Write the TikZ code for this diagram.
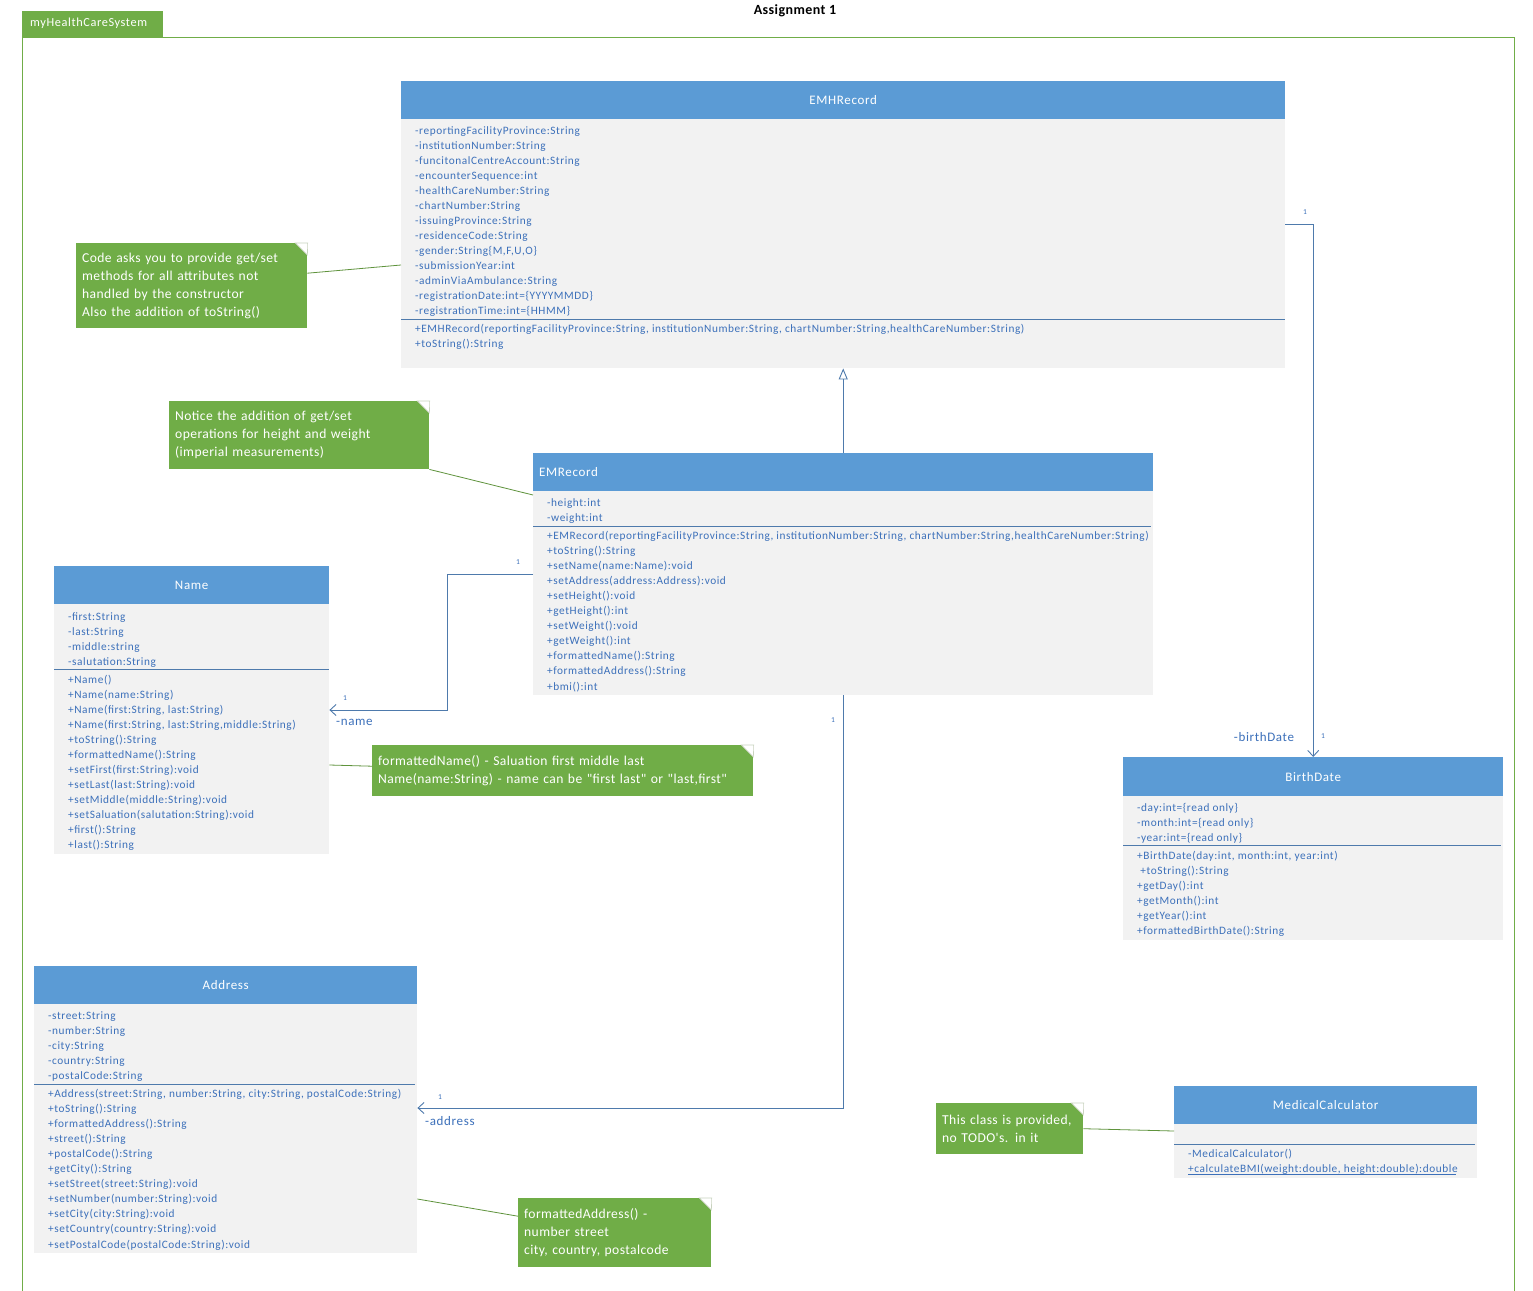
\documentclass[tikz,border=0pt]{standalone}
\usepackage{fontspec}
\setmainfont{Carlito}
\newfontfamily\memfam[LetterSpace=5]{Carlito}
\newfontfamily\notefam[LetterSpace=3]{Carlito}
\usetikzlibrary{arrows.meta}
\definecolor{hdrblue}{RGB}{91,155,213}
\definecolor{bodygray}{RGB}{242,242,242}
\definecolor{txtblue}{RGB}{60,112,186}
\definecolor{lineblue}{RGB}{78,122,172}
\definecolor{notegreen}{RGB}{112,173,71}
\definecolor{foldgray}{RGB}{200,210,190}
\tikzset{
  hdr/.style={fill=hdrblue, draw=none, inner sep=0, anchor=north west},
  hdrtext/.style={text=white, font=\memfam\fontsize{13}{15}\selectfont, inner sep=0},
  bodybox/.style={fill=bodygray, draw=none, inner sep=0, anchor=north west},
  mem/.style={anchor=base west, inner sep=0, text=txtblue, font=\memfam\fontsize{11.3}{15}\selectfont},
  sepline/.style={draw=lineblue, line width=0.9pt},
  notebox/.style={fill=notegreen, draw=none, anchor=north west, inner xsep=6pt, inner ysep=0pt, align=left, text=white, font=\notefam\fontsize{13.6}{18}\selectfont},
  noteline/.style={draw=notegreen!85!black, line width=0.8pt},
  assoc/.style={draw=lineblue, line width=0.9pt, -{Straight Barb[length=6pt,width=11pt,line width=0.9pt]}},
  gen/.style={draw=lineblue, line width=0.9pt, -{Triangle[open, length=11pt, width=9pt, fill=white, line width=0.9pt]}},
  mult/.style={text=txtblue, font=\fontsize{7.5}{8}\selectfont, inner sep=0},
  role/.style={text=txtblue, font=\memfam\fontsize{13}{15}\selectfont, inner sep=0},
  frameline/.style={draw=notegreen, line width=0.9pt}
}
\newcommand{\foldcorner}[1]{%
  \fill[white] ([xshift=-12pt]#1.north east) -- (#1.north east) -- ([yshift=-12pt]#1.north east) -- cycle;
  \draw[foldgray, line width=0.6pt] ([xshift=-12pt]#1.north east) -- ([yshift=-12pt]#1.north east) -- ([xshift=0.3pt]#1.north east) -- cycle;}
\begin{document}
\begin{tikzpicture}[x=1pt,y=-1pt]
\useasboundingbox (0,0) rectangle (1533,1290);
\fill[white] (0,0) rectangle (1533,1290);

% frame and tab
\draw[frameline] (22,1291) -- (22,37) -- (1514,37) -- (1514,1291);
\node[fill=notegreen, minimum width=141, minimum height=26, anchor=north west, inner sep=0] (tab) at (22,11) {};
\node[anchor=west, text=white, inner sep=0, font=\memfam\fontsize{12.3}{14}\selectfont] (tabt) at (30,23.5) {myHealthCareSystem};
\node[font=\notefam\bfseries\fontsize{14}{16}\selectfont, inner sep=0] (title) at (795,11) {Assignment 1};

% ===== EMHRecord
\node[hdr, minimum width=884, minimum height=38] (emh) at (401,81) {};
\node[hdrtext] (emht) at (emh.center) {EMHRecord};
\node[bodybox, minimum width=884, minimum height=249] (emhb) at (401,119) {};
\foreach \txt [count=\i from 0] in {-reportingFacilityProvince:String,-institutionNumber:String,-funcitonalCentreAccount:String,-encounterSequence:int,-healthCareNumber:String,-chartNumber:String,-issuingProvince:String,-residenceCode:String,{-gender:String\{M,F,U,O\}},-submissionYear:int,-adminViaAmbulance:String,{-registrationDate:int=\{YYYYMMDD\}},{-registrationTime:int=\{HHMM\}}}
  \node[mem] (emh-a\i) at (415,134+15*\i) {\txt};
\draw[sepline] (401,319) -- (1285,319);
\foreach \txt [count=\i from 0] in {{+EMHRecord(reportingFacilityProvince:String, institutionNumber:String, chartNumber:String,healthCareNumber:String)},+toString():String}
  \node[mem] (emh-m\i) at (415,332+15*\i) {\txt};

% ===== EMRecord
\node[hdr, minimum width=620, minimum height=38] (emr) at (533,453) {};
\node[hdrtext, anchor=west] (emrt) at (539,472) {EMRecord};
\node[bodybox, minimum width=620, minimum height=204] (emrb) at (533,491) {};
\foreach \txt [count=\i from 0] in {-height:int,-weight:int}
  \node[mem] (emr-a\i) at (547,506+15*\i) {\txt};
\draw[sepline] (533,526) -- (1151,526);
\foreach \txt [count=\i from 0] in {{+EMRecord(reportingFacilityProvince:String, institutionNumber:String, chartNumber:String,healthCareNumber:String)},+toString():String,+setName(name:Name):void,+setAddress(address:Address):void,+setHeight():void,+getHeight():int,+setWeight():void,+getWeight():int,+formattedName():String,+formattedAddress():String,+bmi():int}
  \node[mem] (emr-m\i) at (547,539+15.1*\i) {\txt};

% ===== Name
\node[hdr, minimum width=275, minimum height=38] (nm) at (54,566) {};
\node[hdrtext] (nmt) at (nm.center) {Name};
\node[bodybox, minimum width=275, minimum height=250] (nmb) at (54,604) {};
\foreach \txt [count=\i from 0] in {-first:String,-last:String,-middle:string,-salutation:String}
  \node[mem] (nm-a\i) at (68,620+15*\i) {\txt};
\draw[sepline] (54,669) -- (329,669);
\foreach \txt [count=\i from 0] in {+Name(),+Name(name:String),{+Name(first:String, last:String)},{+Name(first:String, last:String,middle:String)},+toString():String,+formattedName():String,+setFirst(first:String):void,+setLast(last:String):void,+setMiddle(middle:String):void,+setSaluation(salutation:String):void,+first():String,+last():String}
  \node[mem] (nm-m\i) at (68,683+15*\i) {\txt};

% ===== BirthDate
\node[hdr, minimum width=380, minimum height=39] (bd) at (1123,757) {};
\node[hdrtext] (bdt) at (bd.center) {BirthDate};
\node[bodybox, minimum width=380, minimum height=144] (bdb) at (1123,796) {};
\foreach \txt [count=\i from 0] in {-day:int=\{read only\},-month:int=\{read only\},-year:int=\{read only\}}
  \node[mem] (bd-a\i) at (1137,811+15*\i) {\txt};
\draw[sepline] (1123,845) -- (1501,845);
\foreach \txt [count=\i from 0] in {{+BirthDate(day:int, month:int, year:int)},\ +toString():String,+getDay():int,+getMonth():int,+getYear():int,+formattedBirthDate():String}
  \node[mem] (bd-m\i) at (1137,859+15*\i) {\txt};

% ===== Address
\node[hdr, minimum width=383, minimum height=38] (ad) at (34,966) {};
\node[hdrtext] (adt) at (ad.center) {Address};
\node[bodybox, minimum width=383, minimum height=249] (adb) at (34,1004) {};
\foreach \txt [count=\i from 0] in {-street:String,-number:String,-city:String,-country:String,-postalCode:String}
  \node[mem] (ad-a\i) at (48,1019+15*\i) {\txt};
\draw[sepline] (34,1084) -- (415,1084);
\foreach \txt [count=\i from 0] in {{+Address(street:String, number:String, city:String, postalCode:String)},+toString():String,+formattedAddress():String,+street():String,+postalCode():String,+getCity():String,+setStreet(street:String):void,+setNumber(number:String):void,+setCity(city:String):void,+setCountry(country:String):void,+setPostalCode(postalCode:String):void}
  \node[mem] (ad-m\i) at (48,1097+15.1*\i) {\txt};

% ===== MedicalCalculator
\node[hdr, minimum width=303, minimum height=38] (mc) at (1174,1086) {};
\node[hdrtext] (mct) at (mc.center) {MedicalCalculator};
\node[bodybox, minimum width=303, minimum height=54] (mcb) at (1174,1124) {};
\draw[sepline] (1174,1144) -- (1475,1144);
\node[mem] (mc-m0) at (1188,1157) {-MedicalCalculator()};
\node[mem] (mc-m1) at (1188,1172) {+calculateBMI(weight:double, height:double):double};
\draw[draw=txtblue, line width=0.7pt] ([yshift=-2pt]mc-m1.base west) -- ([xshift=-1.5pt,yshift=-2pt]mc-m1.base east);

% ===== Notes
\node[notebox, text width=219, minimum height=85] (n1) at (76,243) {Code asks you to provide get/set\\methods for all attributes not\\handled by the constructor\\Also the addition of toString()};
\foldcorner{n1}
\node[notebox, text width=248, minimum height=68] (n2) at (169,401) {Notice the addition of get/set\\operations for height and weight\\(imperial measurements)};
\foldcorner{n2}
\node[notebox, text width=369, minimum height=51] (n3) at (372,745) {formattedName() - Saluation first middle last\\Name(name:String) - name can be "first last" or "last,first"};
\foldcorner{n3}
\node[notebox, text width=181, minimum height=69] (n4) at (518,1198) {formattedAddress() -\\number street\\city, country, postalcode};
\foldcorner{n4}
\node[notebox, text width=135, minimum height=51] (n5) at (936,1103) {This class is provided,\\no TODO's. in it};
\foldcorner{n5}

% note connectors
\draw[noteline] ([yshift=12.5pt]n1.east) -- ([yshift=-146pt]emhb.north west);
\draw[noteline] (n2.south east) -- ([yshift=-4pt]emrb.north west);
\draw[noteline] ([yshift=-161pt]nmb.north east) -- ([yshift=4.5pt]n3.west);
\draw[noteline] ([yshift=-195pt]adb.north east) -- ([yshift=16.5pt]n4.west);
\draw[noteline] (n5.east) -- ([yshift=-7pt]mcb.north west);

% ===== Relations
\draw[gen] (emr.north) -- (emhb.south);
\draw[assoc] ([yshift=-105pt]emhb.north east) -| (bd.north);
\draw[assoc] ([yshift=-83pt]emrb.north west) -- ++(-86,0) |- ([yshift=-106pt]nmb.north east);
\draw[assoc] (emrb.south) |- ([yshift=-104pt]adb.north east);

% multiplicities and roles
\node[mult] (m1) at (1305,212) {1};
\node[mult] (m2) at (1323,736) {1};
\node[role] (r1) at (1264,737) {-birthDate};
\node[mult] (m3) at (518,562) {1};
\node[mult] (m4) at (345,698) {1};
\node[role, anchor=west] (r2) at (336,722) {-name};
\node[mult] (m5) at (833,720) {1};
\node[mult] (m6) at (440,1097) {1};
\node[role, anchor=west] (r3) at (425,1121) {-address};
\end{tikzpicture}
\end{document}
